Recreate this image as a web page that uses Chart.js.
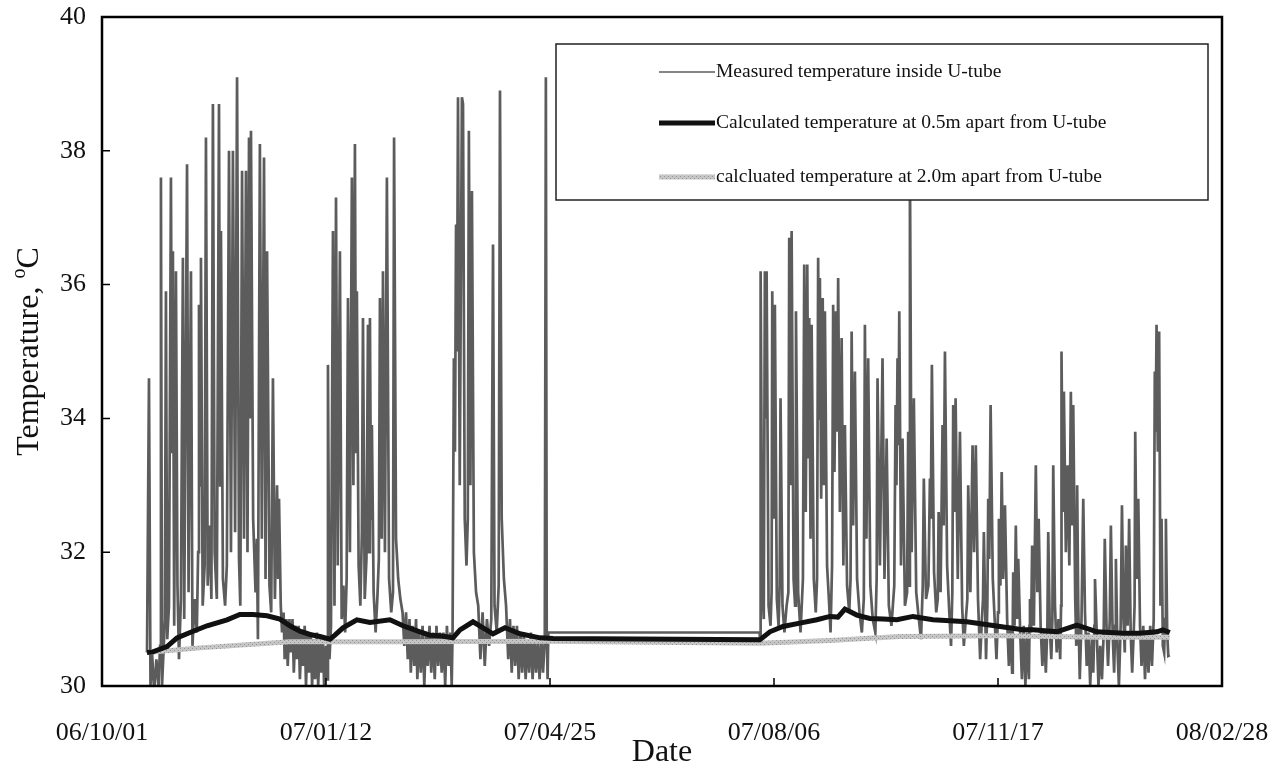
<!DOCTYPE html>
<html lang="en">
<head>
<meta charset="UTF-8">
<title>U-tube temperature</title>
<script src="https://cdn.jsdelivr.net/npm/chart.js"></script>
<style>
  body { margin: 0; background: #fff; }
  #tempChart { display: block; }
</style>
</head>
<body>
<canvas id="tempChart" width="1275" height="765"></canvas>
<script>
// x values are days counted from 06/10/01, ticks every 103 days
const dateLabels = ['06/10/01', '07/01/12', '07/04/25', '07/08/06', '07/11/17', '08/02/28'];
const dayStep = 103;
const tempMin = 30, tempMax = 40, tempStep = 2;

// measured temperature inside the U-tube, [day, degC]
const measuredRun1 = [
  [20.7,30.5],[21.6,34.6],[22.3,30.0],[23.0,30.5],[24.0,29.9],[25.0,30.4],[26.0,30.0],[26.7,30.6],
  [27.1,37.6],[27.6,30.0],[28.4,30.6],[28.9,31.0],[29.4,35.9],[30.0,30.7],[30.8,31.2],
  [31.7,37.6],[32.2,33.5],[32.6,36.5],[33.2,30.9],[34.0,36.2],[34.7,31.5],[35.4,30.4],[36.3,31.3],
  [37.2,36.4],[37.8,31.0],[39.1,37.8],[39.8,31.4],[40.9,36.2],[41.6,30.6],[42.6,31.3],[43.6,30.8],[44.2,32.0],
  [44.6,35.7],[45.1,33.0],[45.5,36.4],[46.3,31.2],[47.2,31.8],[47.8,38.2],[48.6,31.5],[49.5,32.4],[50.3,31.3],
  [51.0,38.7],[51.8,32.0],[52.8,31.3],[53.8,38.7],[54.3,33.0],[54.7,36.8],[55.6,31.6],[56.6,31.2],[57.4,31.8],
  [58.4,38.0],[59.3,32.0],[60.2,38.0],[61.2,32.3],[62.1,39.1],[63.0,31.9],[63.6,31.2],[64.4,37.7],[65.3,32.2],
  [66.2,37.7],[66.9,32.0],[67.6,38.2],[68.0,34.0],[68.5,38.3],[69.5,32.5],[70.6,31.4],[71.2,32.2],[71.7,30.7],
  [72.6,38.1],[73.5,32.2],[74.5,37.9],[75.2,31.6],[75.9,36.5],[77.0,31.5],[77.8,31.1],[78.6,34.6],[79.5,31.3],
  [80.5,33.0],[81.0,31.6],[81.4,32.8],[82.2,31.2],[82.8,30.8],
  [83.5,31.1],[84.0,30.4],[84.8,31.0],[85.4,30.3],[86.2,31.0],[86.8,30.5],[87.6,31.0],[88.2,30.2],
  [89.0,30.9],[89.6,30.4],[90.4,30.9],[91.0,30.1],[91.8,30.8],[92.4,30.3],[93.2,30.9],[93.8,30.0],
  [94.6,30.8],[95.2,30.2],[96.0,30.8],[96.6,30.0],[97.4,30.7],[98.0,30.1],[98.8,30.8],[99.4,30.0],
  [100.2,30.7],[100.8,30.2],[101.6,30.7],[102.2,29.9],[103.0,30.6],[103.5,30.1]
];
const measuredRun2 = [
  [103.9,34.8],[104.6,30.4],[105.3,30.9],[106.2,36.8],[106.9,31.2],[107.6,37.3],[108.4,31.8],
  [109.4,36.5],[110.2,31.0],[111.0,31.5],[111.8,30.8],[112.5,31.6],[113.1,35.8],[114.0,32.0],
  [114.9,37.6],[115.6,33.0],[116.3,38.1],[116.8,33.5],[117.2,35.9],[118.0,31.8],[118.8,31.2],[119.5,32.3],
  [120.0,35.5],[120.8,31.3],[121.6,31.9],[122.3,35.4],[122.8,32.0],[123.2,35.5],[123.7,32.5],
  [124.1,33.9],[124.9,31.4],[125.8,30.8],[126.6,31.3],[127.3,31.9],[127.8,35.8],[128.6,32.2],
  [129.2,36.2],[130.1,32.0],[131.0,37.6],[132.0,31.6],[133.0,31.1],[133.8,31.4],
  [134.3,38.2],[135.2,32.2],[136.2,31.6],[137.2,31.3],[138.2,31.1],
  [139.0,30.6],[139.8,31.1],[140.6,30.4],[141.4,31.0],[142.0,30.2],[142.8,30.9],[143.6,30.3],[144.4,31.0],
  [145.0,30.1],[145.8,30.8],[146.6,30.2],[147.4,30.9],[148.2,30.0],[149.0,30.8],[149.8,30.3],[150.6,30.9],
  [151.4,30.2],[152.2,30.8],[153.0,30.1],[153.8,30.9],[154.6,30.3],[155.4,30.8],[156.2,30.2],[157.0,30.8],
  [157.8,30.0],[158.6,30.9],[159.4,30.3],[160.2,30.8],[160.8,30.0],[161.2,30.8]
];
const measuredRun3 = [
  [161.8,34.9],[162.3,33.5],[162.8,36.9],[163.2,35.0],[163.7,38.8],[164.5,33.0],[165.5,38.8],[166.0,38.7],
  [166.8,32.5],[167.6,31.8],[168.2,32.5],[168.7,38.3],[169.4,33.0],[170.1,37.4],[171.0,32.0],[172.0,31.4],
  [173.0,31.2],[174.0,30.4],[175.0,31.1],[176.0,30.3],[177.0,31.0],[178.0,30.6],[179.0,31.0],
  [179.8,36.6],[180.5,31.2],[181.5,30.8],[182.4,31.5],[183.0,38.9],[183.8,32.5],[184.8,31.6],[185.8,31.2],
  [186.8,30.4],[187.6,31.0],[188.4,30.2],[189.2,30.9],[190.0,30.3],[190.8,30.9],[191.6,30.1],[192.4,30.8],
  [193.2,30.2],[194.0,30.8],[194.8,30.1],[195.6,30.7],[196.4,30.2],[197.2,30.8],[198.0,30.1],[198.8,30.7],
  [199.6,30.2],[200.4,30.7],[201.2,30.1],[202.0,30.7],[202.8,30.2],[203.6,30.7],
  [204.1,39.1],[204.5,30.8],[204.9,30.1],[205.2,30.8],[302.4,30.8],[302.6,30.65],[302.8,30.7]
];
const measuredRun4 = [
  [302.9,36.2],[303.6,31.5],[304.3,31.0],[304.8,36.2],[305.2,34.0],[305.6,36.2],[306.5,31.2],[307.4,30.9],
  [307.9,31.4],[308.2,35.9],[308.8,32.5],[309.4,35.7],[310.3,31.3],[311.1,30.9],[311.6,31.5],[312.0,34.3],
  [312.9,31.2],[313.8,30.8],[314.8,31.2],[315.6,31.4],[316.0,36.7],[316.6,33.0],[317.1,36.8],[318.0,31.6],
  [318.7,31.2],[319.1,35.6],[320.1,31.4],[321.2,30.8],[322.3,31.6],[322.9,36.3],[323.6,32.6],[324.3,36.3],
  [324.8,33.4],[325.2,35.5],[325.8,32.2],[326.3,35.4],[327.3,31.6],[328.2,31.1],[328.8,31.6],[329.3,36.4],
  [329.7,34.0],[330.1,36.1],[330.7,32.8],[331.4,35.8],[331.9,33.0],[332.4,35.6],[333.4,31.8],[334.4,31.2],
  [335.0,30.8],[335.7,31.8],[336.2,35.7],[336.8,33.2],[337.5,35.6],[338.0,33.8],[338.5,36.1],[339.3,32.6],
  [340.1,35.2],[340.9,31.8],[341.6,33.9],[342.6,31.5],[343.6,31.1],[344.2,31.6],[344.7,35.3],[345.4,32.4],
  [346.2,34.7],[347.2,31.6],[348.3,31.1],[349.4,30.8],[350.3,31.3],[350.8,35.4],[351.5,32.2],[352.3,34.9],
  [353.3,31.5],[354.4,31.0],[355.6,30.8],[356.2,31.6],[356.6,34.6],[357.7,31.8],[358.9,34.9],[359.8,31.6],
  [360.8,33.7],[361.8,31.2],[363.0,30.9],[364.3,31.5],[364.9,34.2],[365.3,33.0],[365.8,34.9],[366.2,33.6],
  [366.6,35.6],[367.4,31.8],[368.1,33.7],[369.2,31.2],[370.2,31.4],[370.7,33.8],[371.1,31.5],[371.5,37.9],
  [372.3,32.0],[373.3,34.3],[374.4,31.4],[375.6,31.0],[376.6,30.7],[377.4,31.5],[377.9,33.1],[378.9,31.3],
  [380.0,31.5],[380.7,33.1],[381.1,32.5],[381.6,34.8],[382.6,31.7],[383.6,31.1],[384.3,31.3],[384.7,32.6],
  [385.6,31.4],[386.5,33.9],[387.0,32.4],[387.6,35.0],[388.6,31.8],[389.6,31.1],[390.4,30.6],[391.0,31.4],
  [391.4,34.2],[392.0,32.6],[392.5,34.3],[393.5,31.6],[394.5,33.8],[395.5,31.2],[396.3,30.6],[397.2,31.0],
  [397.9,31.3],[398.3,33.0],[399.3,31.4],[400.3,33.6],[401.0,32.0],[401.8,33.6],[402.8,31.3],[403.8,30.4],
  [404.6,31.0],[405.1,31.3],[405.5,32.3],[406.5,30.4],[407.1,31.2],[407.5,32.8],[408.0,31.9],[408.6,34.2],
  [409.6,31.6],[410.6,30.9],[411.3,30.4],[412.0,31.1],[412.4,32.5],[413.1,31.5],[413.7,33.2],[414.4,31.6],
  [415.2,32.7],[416.2,31.0],[417.0,30.3],[417.8,30.9],[418.5,30.2],[418.8,31.0],[419.0,31.7],[419.6,30.9],
  [420.2,32.4],[420.8,31.0],[421.3,31.9],[422.2,30.8],[423.0,30.1],[423.8,30.9],[424.6,30.0],[425.4,30.8],
  [426.2,30.1],[426.5,30.9],[426.7,31.3],[427.2,30.8],[427.7,32.1],[428.5,30.9],[429.4,33.3],[430.1,31.4],
  [430.7,32.5],[431.6,30.9],[432.4,30.3],[433.2,30.8],[434.0,30.2],[434.7,30.9],[435.1,32.3],[435.8,30.9],
  [436.5,30.4],[437.0,31.0],[437.4,33.3],[438.2,31.2],[439.0,30.5],[439.8,31.0],[440.6,30.4],[441.0,31.2],
  [441.2,35.0],[441.8,32.6],[442.3,34.4],[443.2,32.0],[444.0,33.3],[444.8,31.8],[445.5,34.4],[446.1,32.4],
  [446.6,34.2],[447.5,31.3],[448.0,30.6],[448.4,33.0],[448.9,31.2],[449.6,30.1],[450.4,31.0],[451.2,32.8],
  [452.0,31.1],[452.8,30.3],[453.6,30.8],[454.4,30.0],[455.2,30.7],[455.8,30.2],[456.3,30.9],[456.6,31.6],
  [457.4,30.8],[458.2,30.0],[459.0,30.6],[459.8,30.1],[460.6,30.8],[461.1,32.2],[461.9,30.9],[462.6,30.3],
  [463.4,31.0],[463.9,32.4],[464.7,30.8],[465.4,30.2],[465.9,30.9],[466.2,31.9],[466.9,30.6],[467.6,30.0],
  [468.4,30.9],[469.0,32.7],[469.7,31.0],[470.3,30.5],[470.8,32.1],[471.6,30.9],[472.3,32.5],[473.0,30.8],
  [473.7,30.2],[474.4,30.8],[474.8,31.2],[475.1,33.8],[475.8,31.6],[476.5,32.8],[477.3,30.9],[478.0,30.3],
  [478.8,30.9],[479.6,30.1],[480.4,30.8],[481.2,30.2],[482.0,30.9],[482.8,30.3],[483.6,31.0],[484.1,34.7],
  [484.5,33.8],[484.9,35.4],[485.5,33.5],[486.1,35.3],[486.7,31.2],[487.2,32.5],[487.8,30.6],[488.4,30.5],
  [488.8,31.0],[489.2,32.5],[489.8,30.8],[490.3,30.45],[491.0,30.46]
];
const measured = [].concat(measuredRun1, measuredRun2, measuredRun3, measuredRun4);

// calculated temperature 0.5 m from the U-tube
const calc05 = [
  [20.7,30.5],[23.4,30.51],[29.9,30.59],[34.5,30.72],[40.5,30.8],[48.3,30.9],[57.5,30.99],[63.4,31.07],
  [69.4,31.07],[75.9,31.05],[81.8,31.0],[86.4,30.9],[91.0,30.82],[95.6,30.77],[100.2,30.74],[104.8,30.7],
  [107.1,30.76],[110.8,30.87],[117.2,30.99],[123.2,30.95],[132.4,30.99],[138.4,30.9],[146.2,30.81],
  [150.8,30.76],[155.4,30.75],[161.4,30.72],[164.6,30.84],[170.6,30.96],[175.2,30.87],[179.8,30.78],
  [185.3,30.87],[192.2,30.78],[201.4,30.72],[207.4,30.71],[302.5,30.69],[307.1,30.81],[313.1,30.89],
  [320.9,30.94],[328.7,30.99],[334.7,31.04],[338.4,31.03],[341.6,31.15],[347.1,31.06],[353.1,31.01],
  [359.1,31.0],[365.5,30.99],[372.9,31.04],[382.1,30.99],[397.7,30.96],[412.9,30.89],[423.4,30.84],
  [428.0,30.84],[439.1,30.81],[448.3,30.91],[457.5,30.81],[469.4,30.79],[477.2,30.79],[485.1,30.81],
  [487.8,30.84],[491.0,30.8]
];

// calculated temperature 2.0 m from the U-tube
const calc20 = [
  [20.7,30.5],[45.0,30.57],[86.4,30.66],[137.0,30.66],[203.7,30.67],[302.5,30.64],[334.7,30.68],
  [366.9,30.74],[412.9,30.75],[458.9,30.73],[491.0,30.73]
];

const ctx = document.getElementById('tempChart').getContext('2d');

// speckled light grey like the printed 2.0 m line
function speckle() {
  const c = document.createElement('canvas');
  c.width = 4; c.height = 4;
  const g = c.getContext('2d');
  g.fillStyle = '#c6c6c6'; g.fillRect(0, 0, 4, 4);
  g.fillStyle = '#949494'; g.fillRect(0, 0, 1, 1); g.fillRect(2, 2, 1, 1);
  return ctx.createPattern(c, 'repeat');
}
const greyPattern = speckle();

const serif = "'Liberation Serif', 'Times New Roman', serif";

const framePlugin = {
  id: 'frame',
  afterDatasetsDraw(chart) {
    const { ctx, chartArea: a, scales: { x, y } } = chart;
    ctx.save();

    // inward tick marks and tick labels
    ctx.strokeStyle = '#000';
    ctx.lineWidth = 1.5;
    ctx.fillStyle = '#111';
    ctx.font = '26px ' + serif;
    ctx.beginPath();
    ctx.textAlign = 'right';
    ctx.textBaseline = 'middle';
    y.ticks.forEach(t => {
      const py = y.getPixelForValue(t.value);
      ctx.moveTo(a.left, py); ctx.lineTo(a.left + 8, py);
      ctx.fillText(String(t.value), a.left - 16, py);
    });
    ctx.textAlign = 'center';
    x.ticks.forEach(t => {
      const px = x.getPixelForValue(t.value);
      ctx.moveTo(px, a.bottom); ctx.lineTo(px, a.bottom - 8);
      ctx.fillText(dateLabels[Math.round(t.value / dayStep)], px, a.bottom + 47);
    });
    ctx.stroke();

    // legend box
    const box = { left: 556, top: 44, right: 1208, bottom: 200 };
    ctx.fillStyle = '#fff';
    ctx.fillRect(box.left, box.top, box.right - box.left, box.bottom - box.top);
    ctx.strokeStyle = '#222';
    ctx.lineWidth = 1.5;
    ctx.strokeRect(box.left, box.top, box.right - box.left, box.bottom - box.top);

    const ds = chart.data.datasets;
    const rows = [
      { d: ds[0], w: 1.5, y: 72 },
      { d: ds[1], w: 5, y: 123 },
      { d: ds[2], w: 5, y: 177 }
    ];
    ctx.font = '19.5px ' + serif;
    ctx.textAlign = 'left';
    ctx.textBaseline = 'middle';
    rows.forEach(r => {
      ctx.strokeStyle = r.d.borderColor;
      ctx.lineWidth = r.w;
      ctx.beginPath();
      ctx.moveTo(659, r.y); ctx.lineTo(715, r.y);
      ctx.stroke();
      ctx.fillStyle = '#111';
      ctx.fillText(r.d.label, 716, r.y);
    });

    // frame
    ctx.strokeStyle = '#000';
    ctx.lineWidth = 2.5;
    ctx.strokeRect(a.left, a.top, a.right - a.left, a.bottom - a.top);

    // axis titles
    ctx.fillStyle = '#111';
    ctx.textBaseline = 'alphabetic';
    ctx.textAlign = 'center';
    ctx.font = '32px ' + serif;
    ctx.fillText('Date', (a.left + a.right) / 2, 761);

    ctx.translate(38, (a.top + a.bottom) / 2);
    ctx.rotate(-Math.PI / 2);
    ctx.textAlign = 'left';
    const big = '32px ' + serif, small = '20px ' + serif;
    ctx.font = big;
    const w1 = ctx.measureText('Temperature, ').width;
    const w3 = ctx.measureText('C').width;
    ctx.font = small;
    const w2 = ctx.measureText('o').width;
    let tx = -(w1 + w2 + w3) / 2;
    ctx.font = big;
    ctx.fillText('Temperature, ', tx, 0);
    tx += w1;
    ctx.font = small;
    ctx.fillText('o', tx, -13);
    tx += w2;
    ctx.font = big;
    ctx.fillText('C', tx, 0);

    ctx.restore();
  }
};

new Chart(ctx, {
  type: 'line',
  data: {
    datasets: [
      {
        label: 'Measured temperature inside U-tube',
        data: measured,
        borderColor: '#5c5c5c',
        borderWidth: 2.7,
        order: 3
      },
      {
        label: 'Calculated temperature at 0.5m apart from U-tube',
        data: calc05,
        borderColor: '#111',
        borderWidth: 5,
        order: 1
      },
      {
        label: 'calcluated temperature at 2.0m apart from U-tube',
        data: calc20,
        borderColor: greyPattern,
        borderWidth: 5,
        order: 2
      }
    ]
  },
  options: {
    responsive: false,
    animation: false,
    devicePixelRatio: 1,
    layout: { padding: { left: 102, right: 53, top: 17, bottom: 79 } },
    elements: { point: { radius: 0 }, line: { tension: 0 } },
    plugins: { legend: { display: false }, tooltip: { enabled: false } },
    scales: {
      x: {
        type: 'linear',
        min: 0,
        max: dayStep * (dateLabels.length - 1),
        afterFit: s => { s.height = 0; },
        grid: { display: false, drawTicks: false },
        border: { display: false },
        ticks: { display: false, stepSize: dayStep }
      },
      y: {
        min: tempMin,
        max: tempMax,
        afterFit: s => { s.width = 0; },
        grid: { display: false, drawTicks: false },
        border: { display: false },
        ticks: { display: false, stepSize: tempStep }
      }
    }
  },
  plugins: [framePlugin]
});
</script>
</body>
</html>
